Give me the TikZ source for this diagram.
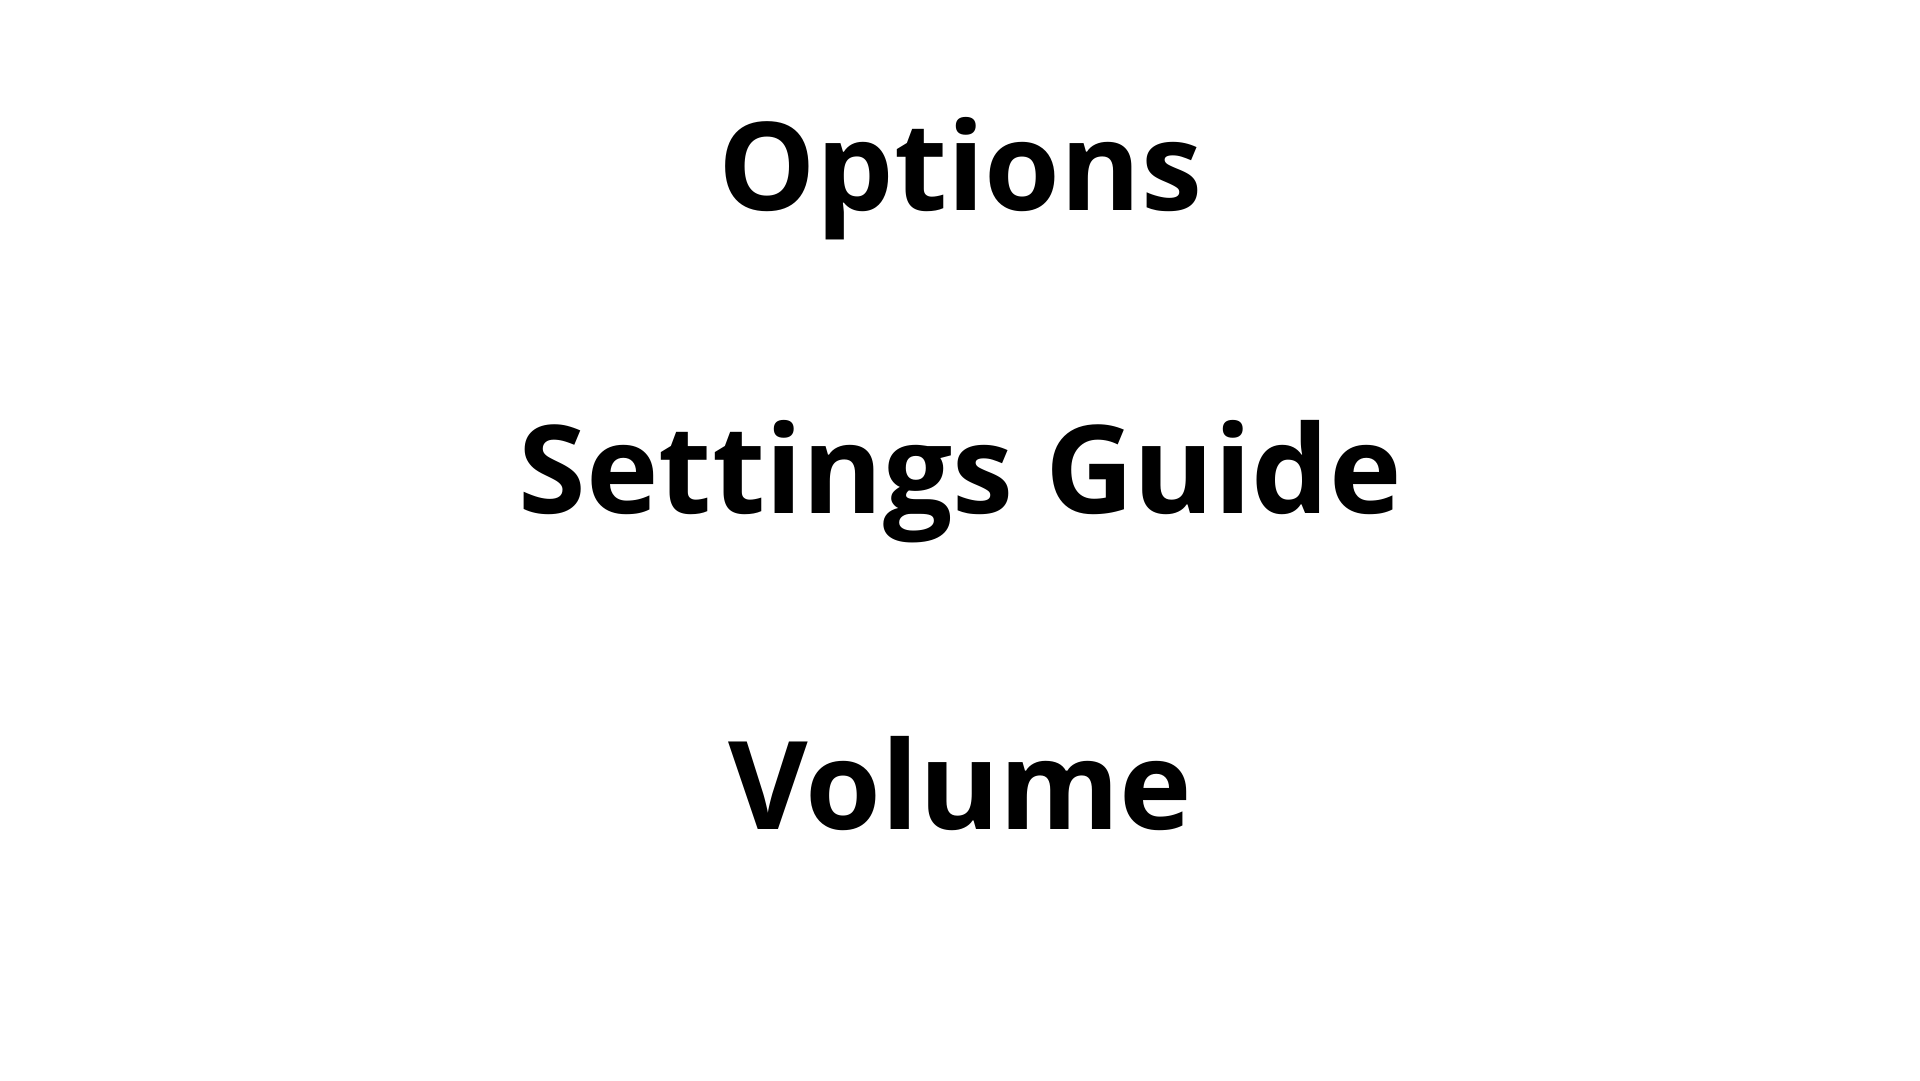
\documentclass[tikz,border=0pt]{standalone}
\usepackage{fontspec}
\setmainfont{Open Sans}
\begin{document}
\begin{tikzpicture}[x=1pt,y=1pt,
  title/.style={anchor=base, inner sep=0pt, font=\fontsize{122.6}{140}\selectfont\bfseries, text=black}]
\useasboundingbox[fill=white] (0,0) rectangle (1920,1080);
\node[title] (options) at (960.5,869) {Options};
\node[title] (guide) at (960.5,566) {Settings Guide};
\node[title] (volume) at (960.5,251) {Volume};
\end{tikzpicture}
\end{document}
